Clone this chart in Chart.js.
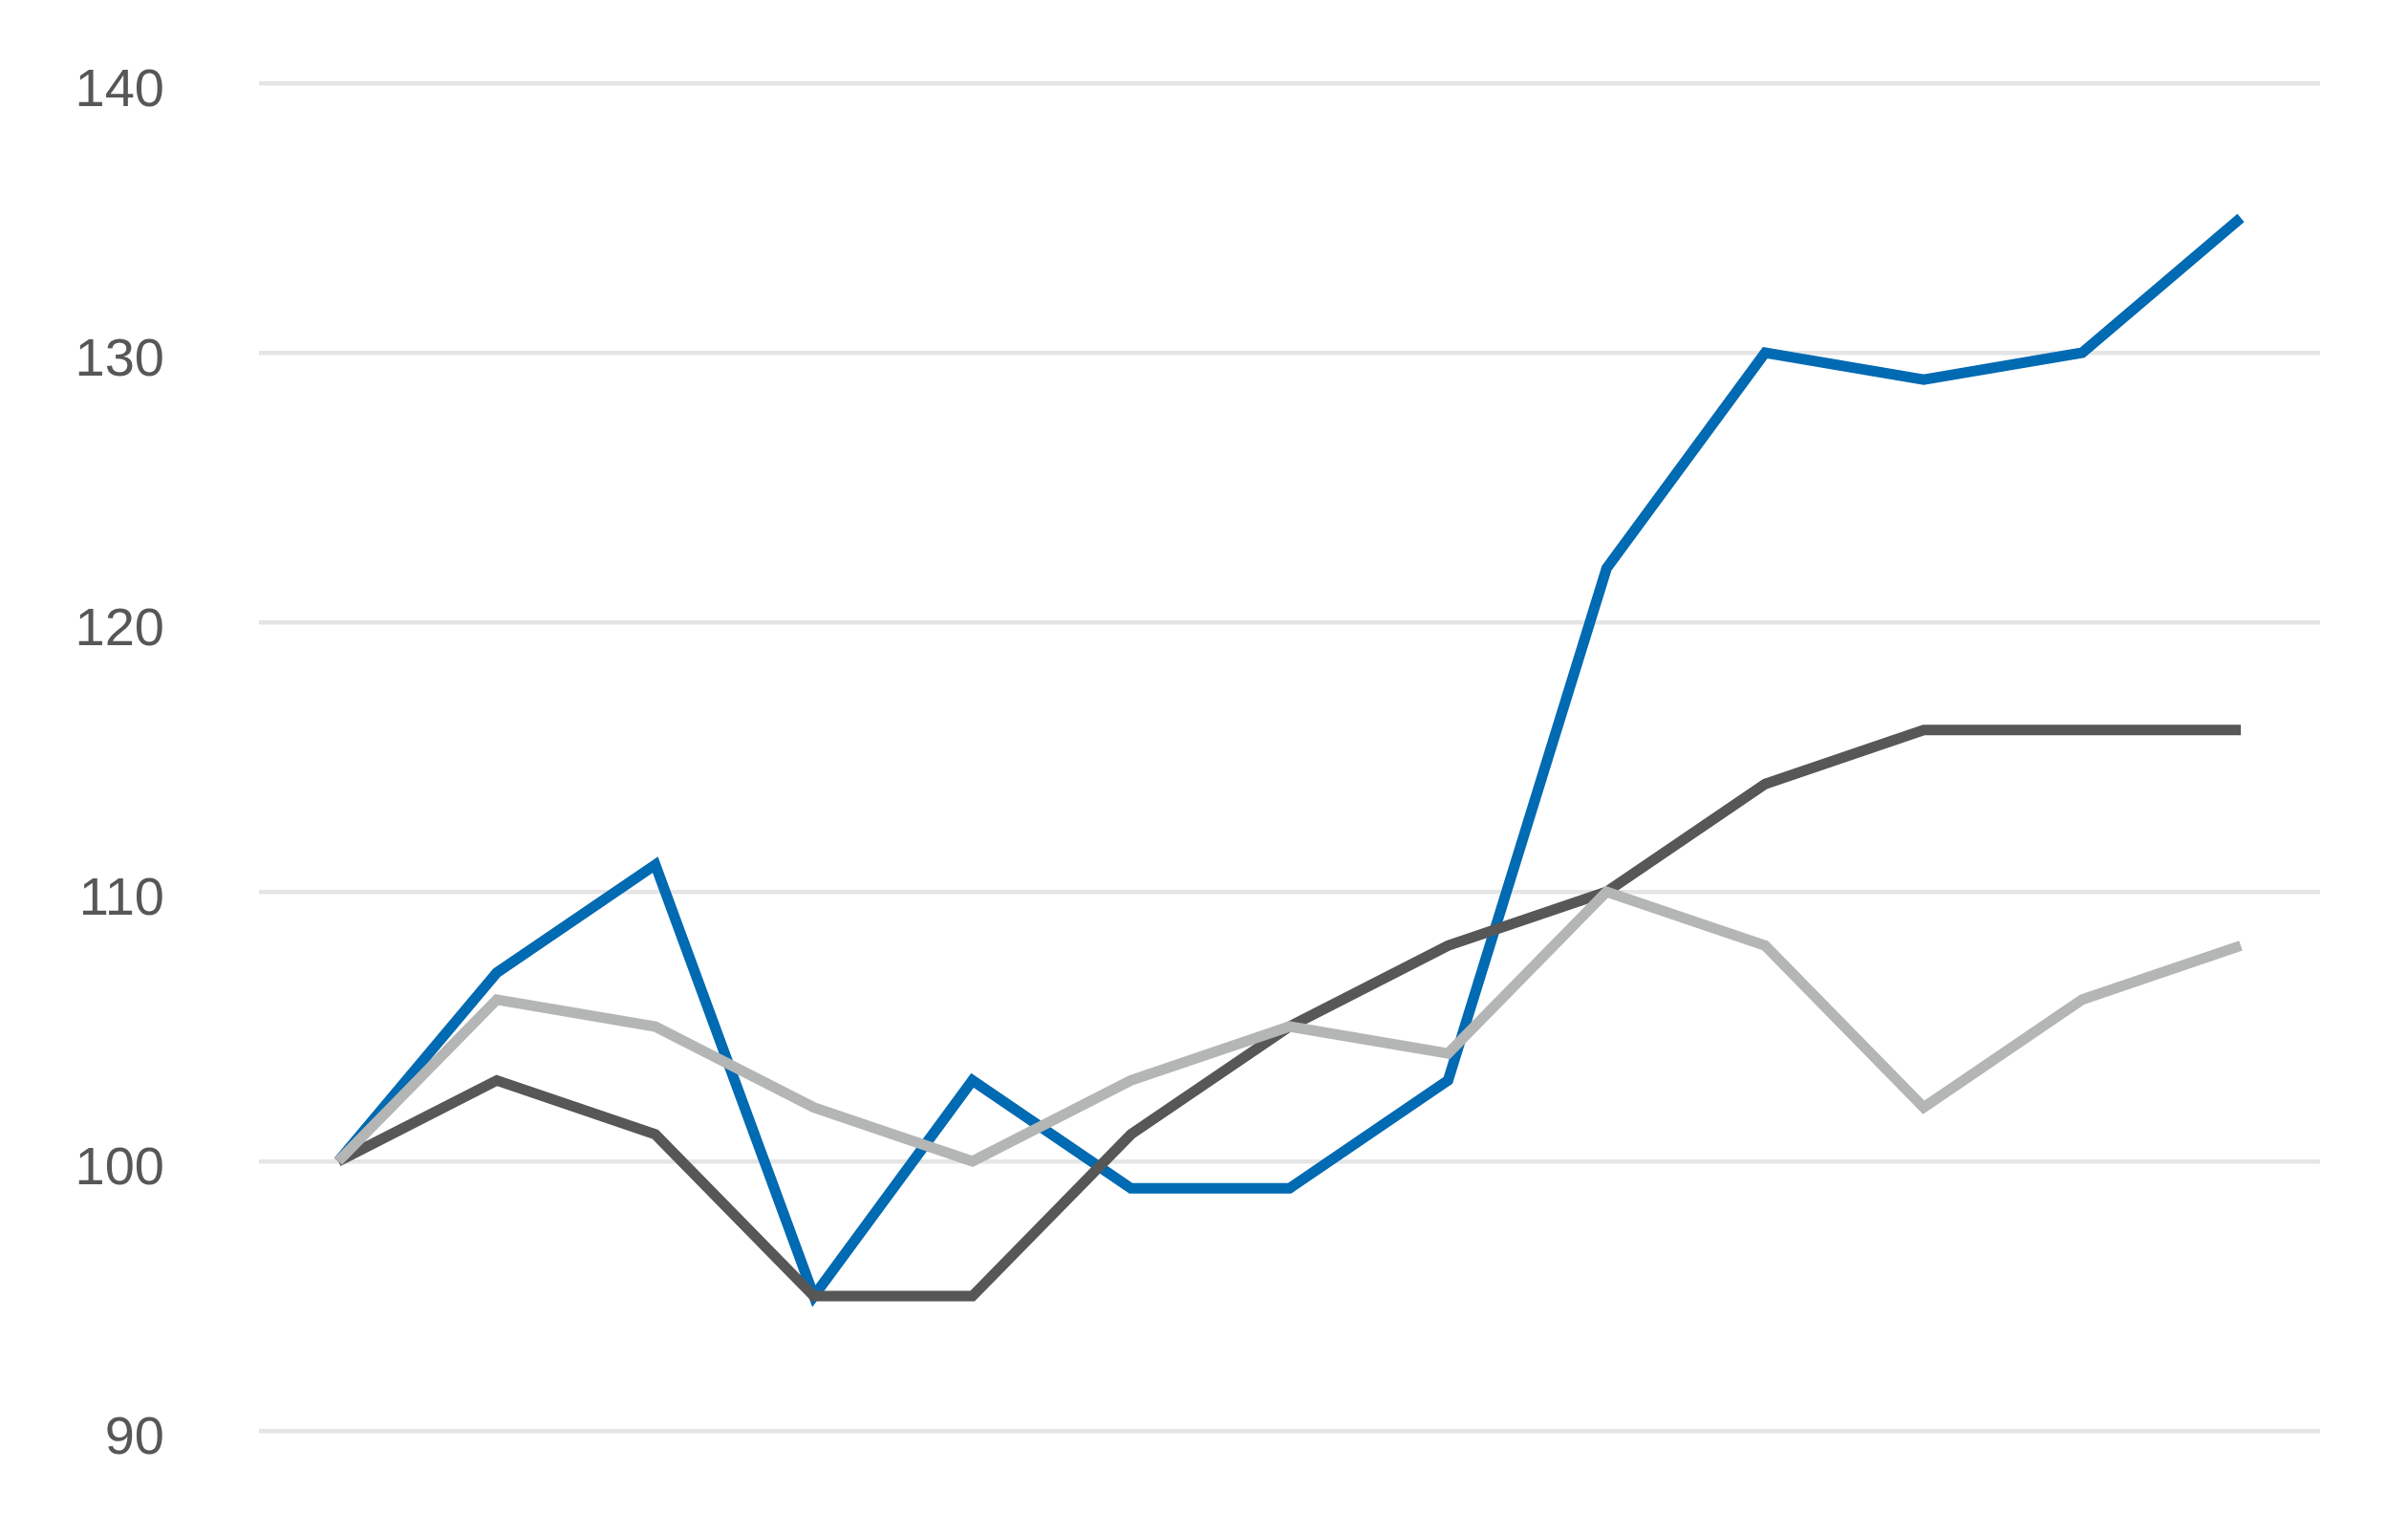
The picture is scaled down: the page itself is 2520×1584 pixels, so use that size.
<!DOCTYPE html>
<html>
<head>
<meta charset="utf-8">
<script src="https://cdn.jsdelivr.net/npm/chart.js@4/dist/chart.umd.min.js"></script>
<style>
  html, body { margin: 0; padding: 0; background: #fff; }
  #wrap { width: 2520px; height: 1584px; position: relative; }
</style>
</head>
<body>
<div id="wrap"><canvas id="chart"></canvas></div>
<script>
// 13 periods, no visible x labels
const periods = ['1', '2', '3', '4', '5', '6', '7', '8', '9', '10', '11', '12', '13'];
const blueSeries = [100, 107, 111, 95, 103, 99, 99, 103, 122, 130, 129, 130, 135];
const darkSeries = [100, 103, 101, 95, 95, 101, 105, 108, 110, 114, 116, 116, 116];
const lightSeries = [100, 106, 105, 102, 100, 103, 105, 104, 110, 108, 102, 106, 108];
const yTicks = [90, 100, 110, 120, 130, 140];

const FONT = "'Liberation Sans', Arial, sans-serif";

function line(data, color, order) {
  return {
    data, borderColor: color, backgroundColor: color,
    borderWidth: 11, pointRadius: 0, pointHoverRadius: 0,
    tension: 0, fill: false, borderJoinStyle: 'miter', borderCapStyle: 'butt',
    order
  };
}

new Chart(document.getElementById('chart').getContext('2d'), {
  type: 'line',
  data: {
    labels: periods,
    datasets: [
      line(blueSeries, '#006ab2', 3),
      line(darkSeries, '#575757', 2),
      line(lightSeries, '#b4b5b5', 1)
    ]
  },
  options: {
    responsive: true,
    maintainAspectRatio: false,
    animation: false,
    layout: { padding: { left: 0, right: 92, top: 87, bottom: 87 } },
    plugins: { legend: { display: false }, tooltip: { enabled: false } },
    scales: {
      x: {
        display: false,
        offset: true
      },
      y: {
        min: 90, max: 140,
        afterBuildTicks: (s) => { s.ticks = yTicks.map(v => ({ value: v })); },
        // fixed axis width; drop the label overflow padding (it includes ticks.padding)
        afterFit: (s) => { s.width = 271; s.paddingTop = 0; s.paddingBottom = 0; },
        border: { display: false },
        grid: { color: '#e5e5e5', lineWidth: 4.5, drawTicks: false },
        ticks: { color: '#575757', padding: 99, labelOffset: 9, font: { family: FONT, size: 56 } }
      }
    }
  }
});
</script>
</body>
</html>
